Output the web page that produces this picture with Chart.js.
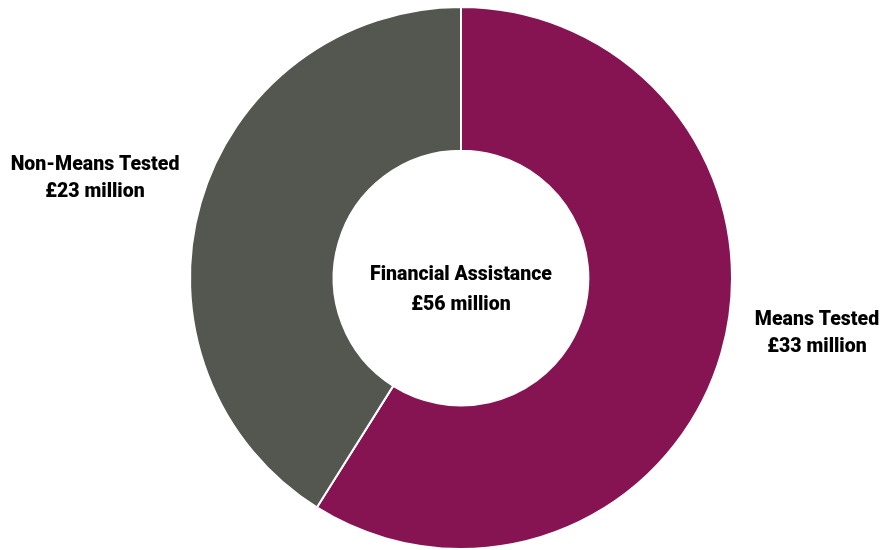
<!DOCTYPE html>
<html>
<head>
<meta charset="utf-8">
<script src="https://cdn.jsdelivr.net/npm/chart.js@4/dist/chart.umd.min.js"></script>
<style>
  html, body { margin: 0; padding: 0; background: #fff; }
  #wrap { width: 890px; height: 550px; position: relative; }
</style>
</head>
<body>
<div id="wrap"><canvas id="assistanceChart"></canvas></div>
<script>
const categories = ["Means Tested", "Non-Means Tested"];
const amounts = [33, 23];
const colors = ["#861453", "#545750"];
const totalLabel = "Financial Assistance";

const money = value => `£${value} million`;
const total = amounts.reduce((sum, v) => sum + v, 0);

// labels beside the ring, offsets from the chart centre
const labelOffsets = [
  { dx: 356, dy: 55 },
  { dx: -366, dy: -100 }
];

const textPlugin = {
  id: "ringText",
  afterDraw(chart) {
    const { ctx } = chart;
    const arc = chart.getDatasetMeta(0).data[0];
    const cx = arc.x;
    const cy = arc.y;
    ctx.save();
    ctx.fillStyle = "#000";
    ctx.font = "900 19.5px Roboto";
    ctx.textAlign = "center";
    ctx.textBaseline = "middle";
    ctx.fillText(totalLabel, cx, cy - 3);
    ctx.fillText(money(total), cx, cy + 27);
    categories.forEach((name, i) => {
      const { dx, dy } = labelOffsets[i];
      ctx.fillText(name, cx + dx, cy + dy - 13);
      ctx.fillText(money(amounts[i]), cx + dx, cy + dy + 14);
    });
    ctx.restore();
  }
};

new Chart(document.getElementById("assistanceChart"), {
  type: "doughnut",
  data: {
    labels: categories,
    datasets: [{
      data: amounts,
      backgroundColor: colors,
      borderColor: "#ffffff",
      borderWidth: 2
    }]
  },
  options: {
    responsive: true,
    maintainAspectRatio: false,
    animation: false,
    cutout: "47%",
    layout: { padding: { top: 6, bottom: 0, left: 32, right: 0 } },
    plugins: {
      legend: { display: false },
      tooltip: { enabled: false }
    }
  },
  plugins: [textPlugin]
});
</script>
</body>
</html>
